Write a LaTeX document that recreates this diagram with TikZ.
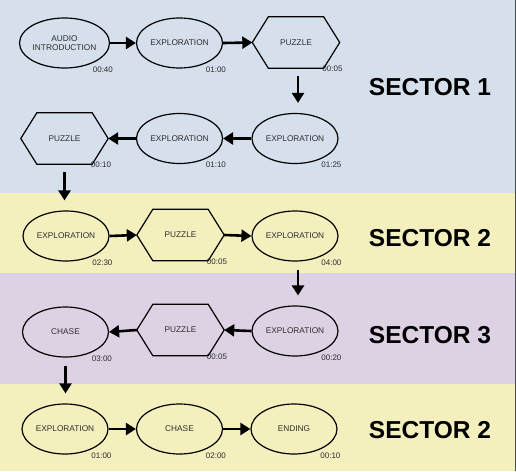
\documentclass[tikz,border=0pt]{standalone}
\usepackage{fontspec}
\setmainfont{Liberation Sans}
\usetikzlibrary{shapes.geometric,arrows.meta,calc}
\definecolor{bandblue}{RGB}{214,224,236}
\definecolor{bandyellow}{RGB}{244,240,190}
\definecolor{bandpurple}{RGB}{221,210,228}
\definecolor{txtgray}{RGB}{45,45,45}
\tikzset{
  ell/.style={ellipse,draw,line width=1.2pt,minimum width=86pt,minimum height=50pt,inner sep=0pt,font=\fontsize{8.3}{10}\selectfont,text=txtgray,align=center},
  hexa/.style={rectangle,minimum width=87pt,minimum height=51pt,inner sep=0pt,font=\fontsize{8.3}{10}\selectfont,text=txtgray},
  tlabel/.style={anchor=east,font=\fontsize{8}{9}\selectfont,text=txtgray,inner sep=0pt},
  sector/.style={font=\fontsize{24.5}{26}\selectfont\bfseries,inner sep=0pt},
  arr/.style={line width=2.6pt,-{Triangle[length=10pt,width=12pt]}},
  darr/.style={arr,shorten <=8pt,shorten >=10pt}
}
\newcommand{\hexdraw}[1]{%
  \draw[line width=1.2pt,line join=miter] (#1.west) -- ($(#1.north west)+(16,0)$) -- ($(#1.north east)+(-16,0)$) -- (#1.east) -- ($(#1.south east)+(-16,0)$) -- ($(#1.south west)+(16,0)$) -- cycle;}
\newcommand{\tlab}[3]{\node[tlabel] (#1) at ($(#2.east |- #2.south)+(3,1)$) {#3};}
\begin{document}
\begin{tikzpicture}[x=1pt,y=-1pt]
\useasboundingbox (0,0) rectangle (516,471);
\fill[bandblue] (0,0) rectangle (516,193);
\fill[bandyellow] (0,193) rectangle (516,273);
\fill[bandpurple] (0,273) rectangle (516,384);
\fill[bandyellow] (0,384) rectangle (516,471);
\fill[black!70] (514.5,0) rectangle (516,471);

% row 1
\node[ell] (a1) at (64.5,43) {AUDIO\\[-1pt]INTRODUCTION};
\node[ell] (a2) at (179.5,43) {EXPLORATION};
\node[hexa] (a3) at (296,42.5) {PUZZLE};
\hexdraw{a3}
\tlab{ta1}{a1}{00:40}
\tlab{ta2}{a2}{01:00}
\tlab{ta3}{a3}{00:05}
% row 2
\node[hexa] (b1) at (64.5,138.5) {PUZZLE};
\hexdraw{b1}
\node[ell] (b2) at (179.5,138.5) {EXPLORATION};
\node[ell] (b3) at (295,138.5) {EXPLORATION};
\tlab{tb1}{b1}{00:10}
\tlab{tb2}{b2}{01:10}
\tlab{tb3}{b3}{01:25}
% row 3
\node[ell] (c1) at (66,236) {EXPLORATION};
\node[hexa] (c2) at (180.5,235) {PUZZLE};
\hexdraw{c2}
\node[ell] (c3) at (295,236) {EXPLORATION};
\tlab{tc1}{c1}{02:30}
\tlab{tc2}{c2}{00:05}
\tlab{tc3}{c3}{04:00}
% row 4
\node[ell] (d1) at (65.5,332) {CHASE};
\node[hexa] (d2) at (180.5,330) {PUZZLE};
\hexdraw{d2}
\node[ell] (d3) at (295,331) {EXPLORATION};
\tlab{td1}{d1}{03:00}
\tlab{td2}{d2}{00:05}
\tlab{td3}{d3}{00:20}
% row 5
\node[ell] (e1) at (65,429) {EXPLORATION};
\node[ell] (e2) at (179.5,429) {CHASE};
\node[ell] (e3) at (294,429) {ENDING};
\tlab{te1}{e1}{01:00}
\tlab{te2}{e2}{02:00}
\tlab{te3}{e3}{00:10}

% sector labels
\node[sector] (s1) at (430,87) {SECTOR 1};
\node[sector] (s2) at (430,238) {SECTOR 2};
\node[sector] (s3) at (430,335) {SECTOR 3};
\node[sector] (s4) at (430,430) {SECTOR 2};

% arrows
\draw[arr] (a1.east) -- (a2.west);
\draw[arr] (a2.east) -- (a3.west);
\draw[darr] ([xshift=2pt]a3.south) -- ([xshift=2pt]a3.south |- b3.north);
\draw[arr] (b3.west) -- (b2.east);
\draw[arr] (b2.west) -- (b1.east);
\draw[darr] (b1.south) -- (b1.south |- c1.north);
\draw[arr] (c1.east) -- (c2.west);
\draw[arr] (c2.east) -- (c3.west);
\draw[darr] ([xshift=3pt]c3.south) -- ([xshift=3pt]c3.south |- d3.north);
\draw[arr] (d3.west) -- (d2.east);
\draw[arr] (d2.west) -- (d1.east);
\draw[darr] (d1.south) -- (d1.south |- e1.north);
\draw[arr] (e1.east) -- (e2.west);
\draw[arr] (e2.east) -- (e3.west);
\end{tikzpicture}
\end{document}
